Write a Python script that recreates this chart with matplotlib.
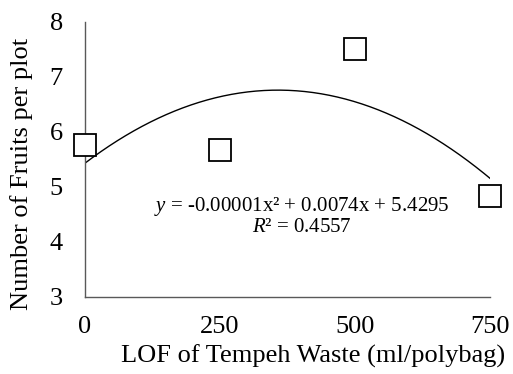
import numpy as np
import matplotlib
matplotlib.use('Agg')
import matplotlib.pyplot as plt

# LOF dose (ml/polybag) vs number of fruits per plot
lof_dose = [0, 250, 500, 750]
fruits = [5.75, 5.67, 7.51, 4.83]
x_ticks = [0, 250, 500, 750]
y_ticks = [3, 4, 5, 6, 7, 8]

plt.rcParams['font.family'] = ['Liberation Serif', 'DejaVu Serif']
plt.rcParams['mathtext.fontset'] = 'custom'
plt.rcParams['mathtext.rm'] = 'Liberation Serif'
plt.rcParams['mathtext.it'] = 'Liberation Serif:italic'

fig = plt.figure(figsize=(5.13, 3.74), dpi=100)
ax = fig.add_axes([0.1657, 0.2067, 0.7895, 0.7353])

# polynomial trend line (order 2), as in the spreadsheet
coef = np.polyfit(lof_dose, fruits, 2)
xs = np.linspace(min(lof_dose), max(lof_dose), 200)
ax.plot(xs, np.polyval(coef, xs), color='black', linewidth=1.0, zorder=2)

ax.plot(lof_dose, fruits, linestyle='none', marker='s', markersize=15.5,
        markerfacecolor='white', markeredgecolor='black', markeredgewidth=1.3,
        clip_on=False, zorder=3)

ax.set_xlim(0, 750)
ax.set_ylim(3, 8)
ax.set_xticks(x_ticks)
ax.set_yticks(y_ticks)
ax.tick_params(length=0, labelsize=19)
ax.tick_params(axis='x', pad=14)
ax.tick_params(axis='y', pad=16)
for side in ['top', 'right']:
    ax.spines[side].set_visible(False)
for side in ['left', 'bottom']:
    ax.spines[side].set_color('#595959')
    ax.spines[side].set_linewidth(1.0)

fig.text(313 / 513, 1 - 356 / 374, 'LOF of Tempeh Waste (ml/polybag)',
         ha='center', va='center', fontsize=19)
fig.text(22 / 513, 1 - 174 / 374, 'Number of Fruits per plot',
         ha='center', va='center', rotation=90, fontsize=19)

fig.text(302 / 513, 1 - 206 / 374,
         '$y$ = -0.00001x\u00b2 + 0.0074x + 5.4295',
         ha='center', va='center', fontsize=15)
fig.text(301 / 513, 1 - 227 / 374, '$R$\u00b2 = 0.4557',
         ha='center', va='center', fontsize=15)

fig.savefig('out.png', dpi=100)
plt.close(fig)
